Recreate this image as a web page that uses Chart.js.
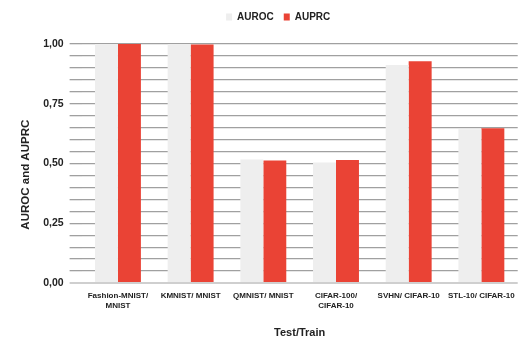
<!DOCTYPE html>
<html><head><meta charset="utf-8">
<script src="https://cdn.jsdelivr.net/npm/chart.js@4/dist/chart.umd.min.js"></script>
<style>html,body{margin:0;padding:0;background:#fff}</style>
</head><body>
<canvas id="c" width="522" height="340" style="display:block;width:522px;height:340px"></canvas>
<script>
const categories = [["Fashion-MNIST/","MNIST"],"KMNIST/ MNIST","QMNIST/ MNIST",["CIFAR-100/","CIFAR-10"],"SVHN/ CIFAR-10","STL-10/ CIFAR-10"];
const aurocValues = [1.00, 1.00, 0.517, 0.504, 0.912, 0.643];
const auprcValues = [1.00, 0.998, 0.513, 0.515, 0.928, 0.647];
const seriesNames = ["AUROC","AUPRC"];
const yTickLabels = [0, 0.25, 0.5, 0.75, 1.0];
const xTitle = "Test/Train";
const yTitle = "AUROC and AUPRC";

const MAIN = "'Liberation Sans', Arial, sans-serif";

const legendTweak = {
  id: 'legendTweak',
  beforeLayout(chart) {
    const lg = chart.legend;
    if (lg && !lg._patched) {
      const orig = lg.fit;
      lg.fit = function () { orig.call(this); this.height += 12; };
      lg._patched = true;
    }
  },
  afterLayout(chart) {
    const lg = chart.legend;
    if (lg) { lg.left += 19; lg.right += 19; }
  }
};

new Chart(document.getElementById('c'), {
  type: 'bar',
  data: {
    labels: categories,
    datasets: [
      { label: seriesNames[0], data: aurocValues, backgroundColor: '#eeeeee', borderWidth: 0 },
      { label: seriesNames[1], data: auprcValues, backgroundColor: '#ea4335', borderWidth: 0 }
    ]
  },
  options: {
    responsive: false,
    animation: false,
    devicePixelRatio: 1,
    layout: { padding: { left: 0, right: 3.6, top: 2, bottom: 0 } },
    datasets: { bar: { categoryPercentage: 0.632, barPercentage: 1.0 } },
    plugins: {
      legend: {
        position: 'top',
        labels: {
          boxWidth: 6, boxHeight: 7, padding: 10,
          color: '#222',
          font: { family: MAIN, size: 10, weight: 'bold' }
        }
      },
      tooltip: { enabled: false }
    },
    scales: {
      x: {
        grid: { display: false, drawTicks: false },
        border: { display: false },
        ticks: {
          color: '#222', padding: 7, maxRotation: 0, autoSkip: false,
          font: { family: MAIN, size: 8, weight: 'bold', lineHeight: 1.35 }
        },
        title: {
          display: true, text: xTitle, color: '#222',
          font: { family: MAIN, size: 11, weight: 'bold' },
          padding: { top: 0, bottom: 0 }
        },
        afterFit(s) { s.height = 57; }
      },
      y: {
        min: 0, max: 1,
        grid: {
          color: (ctx) => ctx.tick && ctx.tick.value === 0 ? '#cfcfcf' : '#a0a0a0',
          lineWidth: (ctx) => ctx.tick && ctx.tick.value === 0 ? 2 : 1.3,
          drawTicks: true, tickLength: 12,
          tickColor: (ctx) => ctx.tick && ctx.tick.value === 0 ? '#cfcfcf' : '#a0a0a0'
        },
        border: { display: false },
        ticks: {
          stepSize: 0.05, autoSkip: false, padding: 6, color: '#222',
          font: { family: MAIN, size: 10.5, weight: 'bold' },
          callback: (v) => {
            const hit = yTickLabels.find(t => Math.abs(t - v) < 1e-6);
            return hit === undefined ? '' : hit.toFixed(2).replace('.', ',');
          }
        },
        title: {
          display: true, text: yTitle + '\u00A0'.repeat(7), color: '#222',
          font: { family: MAIN, size: 11.5, weight: 'bold' },
          padding: { top: 19, bottom: 0 }
        },
        afterFit(s) { s.width = 81.6; }
      }
    }
  },
  plugins: [legendTweak]
});
</script>
</body></html>
